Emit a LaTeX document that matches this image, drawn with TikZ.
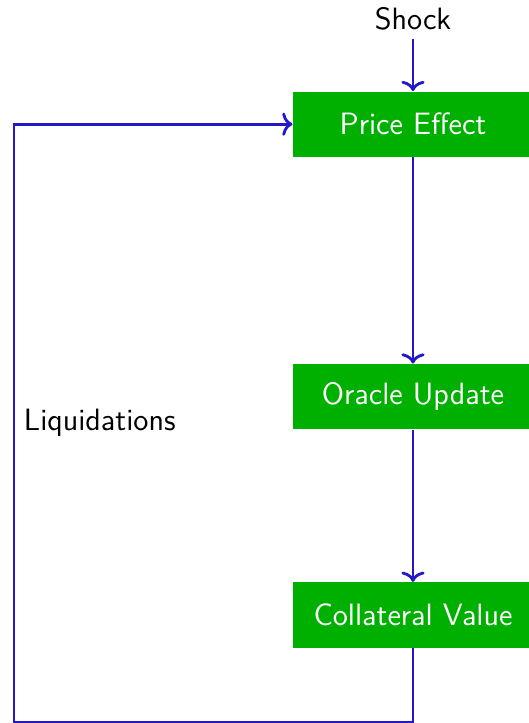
\documentclass[tikz,border=0pt]{standalone}
\usetikzlibrary{arrows.meta}
\definecolor{boxgreen}{RGB}{0,176,0}
\definecolor{lineblue}{RGB}{35,25,200}
\tikzset{
  stage/.style={shape=rectangle,fill=boxgreen,text=white,
    minimum width=3.28cm,minimum height=0.89cm},
  flow/.style={-{To[width=9pt,length=4pt]},draw=lineblue,line width=1.1pt}
}
\begin{document}
\begin{tikzpicture}[font=\sffamily\large]
        \useasboundingbox (0,0) rectangle (7.231,-9.884);
        \node (shock) at (5.646,-0.26) {Shock};
        \node[stage] (price) at (5.646,-1.698) {Price Effect};
        \node[stage] (oracle) at (5.646,-5.423) {Oracle Update};
        \node[stage] (collat) at (5.646,-8.407) {Collateral Value};
        \coordinate (lowright) at (5.646,-9.87);
        \coordinate (lowleft) at (0.191,-9.87);

        \path [flow] (shock) edge (price); \path [flow] (price) edge
        (oracle); \path [flow] (oracle) edge (collat);
        \draw [flow] (collat) -- (lowright) -- (lowleft) -- node[right]
        {Liquidations} (lowleft |- price.west) -- (price.west);
    \end{tikzpicture}
\end{document}
